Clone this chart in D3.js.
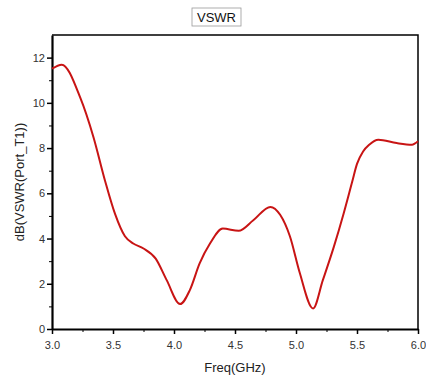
<!DOCTYPE html>
<html>
<head>
<meta charset="utf-8">
<script src="https://cdn.jsdelivr.net/npm/d3@7"></script>
<style>
  body { margin: 0; background: #fff; }
  svg { display: block; font-family: 'Liberation Sans', Arial, sans-serif; }
</style>
</head>
<body>
<svg id="chart" width="426" height="381"></svg>
<script>
// Curve samples
const freq = [3.0, 3.08, 3.23, 3.34, 3.434, 3.516, 3.598, 3.666, 3.75, 3.85, 3.94, 4.05, 4.13, 4.21, 4.295,
    4.40, 4.53, 4.65, 4.79, 4.87, 4.95, 5.03, 5.14, 5.22, 5.31, 5.39, 5.46, 5.5, 5.55, 5.6, 5.675, 5.825, 5.95, 6.0];
const vswr = [11.51, 11.69, 10.25, 8.48, 6.57, 5.10, 4.10, 3.78, 3.56, 3.11, 2.16, 1.1, 1.72, 2.9, 3.78,
    4.44, 4.34, 4.81, 5.4, 5.05, 4.1, 2.5, 0.91, 2.16, 3.63, 5.1, 6.5, 7.3, 7.85, 8.15, 8.37, 8.22, 8.15, 8.3];
const xTicks = [3.0, 3.5, 4.0, 4.5, 5.0, 5.5, 6.0];
const yTicks = [0, 2, 4, 6, 8, 10, 12];

const margin = { left: 52, right: 8, top: 35, bottom: 52 };
const width = 426, height = 381;

const svg = d3.select('#chart');

const x = d3.scaleLinear().domain([3, 6]).range([margin.left, width - margin.right]);
const y = d3.scaleLinear().domain([0, 13]).range([height - margin.bottom, margin.top]);

// frame (top and right)
svg.append('path')
    .attr('d', `M${x(3)},${y(13)}H${x(6)}V${y(0)}`)
    .attr('fill', 'none')
    .attr('stroke', '#000')
    .attr('stroke-width', 1.5);

// minor ticks
const xMinor = d3.range(3.25, 6, 0.5);
const yMinor = d3.range(1, 13, 2);

svg.append('g')
    .attr('transform', `translate(0,${y(0)})`)
    .call(d3.axisBottom(x).tickValues(xMinor).tickSize(3).tickFormat(''))
    .call(g => g.select('.domain').remove());

svg.append('g')
    .attr('transform', `translate(${x(3)},0)`)
    .call(d3.axisLeft(y).tickValues(yMinor).tickSize(3).tickFormat(''))
    .call(g => g.select('.domain').remove());

// main axes
const xAxis = svg.append('g')
    .attr('transform', `translate(0,${y(0)})`)
    .call(d3.axisBottom(x).tickValues(xTicks).tickSize(5).tickSizeOuter(0).tickFormat(d3.format('.1f')));

const yAxis = svg.append('g')
    .attr('transform', `translate(${x(3)},0)`)
    .call(d3.axisLeft(y).tickValues(yTicks).tickSize(5).tickSizeOuter(0).tickFormat(d3.format('d')));

[xAxis, yAxis].forEach(g => {
    g.select('.domain').attr('stroke-width', 2.2);
    g.selectAll('.tick line').attr('stroke-width', 1.5);
    g.selectAll('.tick text')
        .attr('font-family', "'Liberation Sans', Arial, sans-serif")
        .attr('font-size', 11)
        .attr('fill', '#333');
});
xAxis.selectAll('.tick text').attr('dy', '1.05em');
yAxis.selectAll('.tick text').attr('x', -7);
svg.selectAll('.tick line').attr('stroke', '#000');

// curve
const line = d3.line()
    .x((d, i) => x(freq[i]))
    .y(d => y(d))
    .curve(d3.curveMonotoneX);

svg.append('path')
    .datum(vswr)
    .attr('d', line)
    .attr('fill', 'none')
    .attr('stroke', '#c81414')
    .attr('stroke-width', 2);

// title box
svg.append('rect')
    .attr('x', 192).attr('y', 8)
    .attr('width', 49).attr('height', 18)
    .attr('fill', '#fff')
    .attr('stroke', '#999')
    .attr('stroke-width', 0.8);

svg.append('text')
    .attr('x', 216.5).attr('y', 22)
    .attr('text-anchor', 'middle')
    .attr('font-size', 13)
    .attr('fill', '#111')
    .text('VSWR');

// axis labels
svg.append('text')
    .attr('x', (x(3) + x(6)) / 2)
    .attr('y', 372)
    .attr('text-anchor', 'middle')
    .attr('font-size', 13)
    .attr('fill', '#222')
    .text('Freq(GHz)');

svg.append('text')
    .attr('transform', `translate(24,${(y(0) + y(13)) / 2}) rotate(-90)`)
    .attr('text-anchor', 'middle')
    .attr('font-size', 13)
    .attr('fill', '#222')
    .text('dB(VSWR(Port_T1))');
</script>
</body>
</html>
